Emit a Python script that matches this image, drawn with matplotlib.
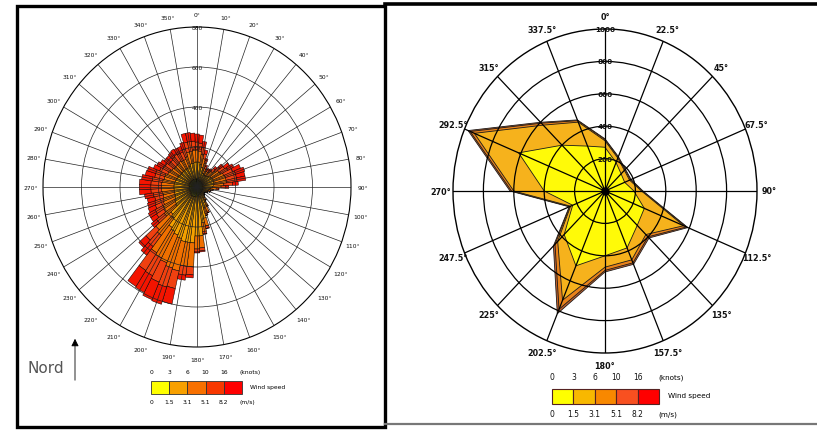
import numpy as np
import matplotlib.pyplot as plt
from matplotlib.patches import Rectangle, FancyArrowPatch

W, H = 817, 431

# ---------------------------------------
# Left rose: 72 sectors of 5 degrees, frequency per speed class
# ---------------------------------------
dirs_left = np.arange(0, 360, 5)

left_c1 = [40, 40, 40, 35, 35, 30, 30, 30, 30, 30, 30, 30,
           30, 30, 30, 30, 30, 30, 30, 30, 30, 30, 30, 30,
           30, 28, 28, 30, 30, 32, 35, 35, 35, 40, 40, 45,
           45, 50, 50, 50, 50, 50, 50, 50, 45, 45, 40, 40,
           40, 40, 40, 40, 40, 40, 40, 40, 40, 40, 40, 40,
           40, 40, 40, 40, 40, 40, 40, 40, 40, 40, 40, 40]
left_c2 = [85, 85, 75, 65, 55, 45, 40, 40, 40, 45, 50, 55,
           55, 60, 60, 60, 60, 55, 50, 40, 35, 30, 28, 22,
           20, 18, 18, 20, 22, 33, 50, 70, 75, 120, 140, 200,
           200, 230, 230, 230, 220, 210, 200, 190, 150, 140, 100, 95,
           90, 85, 80, 80, 80, 80, 80, 80, 80, 75, 75, 70,
           70, 65, 65, 65, 65, 65, 65, 65, 70, 80, 80, 85]
left_c3 = [60, 55, 50, 45, 35, 25, 20, 22, 25, 32, 40, 50,
           55, 60, 65, 65, 65, 55, 45, 30, 15, 12, 10, 8,
           5, 4, 4, 5, 8, 12, 20, 28, 30, 40, 45, 60,
           65, 120, 120, 150, 155, 150, 150, 150, 110, 105, 75, 70,
           70, 65, 65, 60, 60, 65, 65, 65, 60, 60, 60, 55,
           50, 50, 45, 45, 45, 50, 45, 45, 50, 60, 60, 60]
left_c4 = [40, 40, 35, 25, 15, 12, 10, 12, 12, 20, 28, 35,
           40, 50, 55, 55, 55, 45, 25, 10, 5, 3, 2, 0,
           0, 0, 0, 0, 0, 3, 5, 7, 10, 12, 12, 15,
           15, 40, 45, 90, 100, 105, 100, 105, 70, 70, 50, 45,
           45, 45, 45, 45, 50, 55, 55, 55, 55, 50, 50, 45,
           40, 40, 35, 35, 40, 40, 40, 40, 40, 50, 50, 45]
left_c5 = [40, 40, 30, 20, 10, 8, 5, 6, 8, 13, 22, 30,
           35, 45, 50, 45, 45, 30, 15, 5, 0, 0, 0, 0,
           0, 0, 0, 0, 0, 0, 0, 0, 0, 3, 3, 5,
           5, 15, 25, 80, 90, 95, 95, 95, 55, 50, 35, 35,
           40, 40, 40, 40, 45, 60, 60, 60, 55, 50, 45, 35,
           35, 30, 30, 30, 30, 30, 30, 30, 35, 45, 45, 40]
left_classes = [left_c1, left_c2, left_c3, left_c4, left_c5]
left_colors = ['#ffff00', '#f3a000', '#f07000', '#f04010', '#f41400']
left_rings = [200, 400, 600, 800]

# ---------------------------------------
# Right rose: 16 directions, stacked polygons
# ---------------------------------------
dirs_right = np.arange(0, 360, 22.5)
dir_labels_right = ['0°', '22.5°', '45°', '67.5°', '90°', '112.5°', '135°', '157.5°',
                    '180°', '202.5°', '225°', '247.5°', '270°', '292.5°', '315°', '337.5°']
right_c1 = [270, 190, 150, 140, 190, 280, 300, 380, 400, 500, 380, 230, 400, 615, 400, 300]
right_c2 = [40, 30, 30, 35, 50, 280, 80, 80, 70, 230, 60, 15, 200, 315, 175, 160]
right_c3 = [8, 6, 6, 7, 6, 20, 20, 20, 20, 60, 25, 6, 15, 30, 17, 10]
right_c4 = [4, 4, 4, 4, 4, 10, 10, 10, 10, 30, 15, 4, 10, 15, 8, 5]
right_classes = [right_c1, right_c2, right_c3, right_c4]
right_colors = ['#fffa08', '#f6b21c', '#e8821a', '#c2602c']
right_rings = [200, 400, 600, 800, 1000]

# legend
knots_labels = ['0', '3', '6', '10', '16']
ms_labels = ['0', '1.5', '3.1', '5.1', '8.2']
legend_left_colors = ['#ffff00', '#f8a000', '#f87000', '#f83800', '#ff0000']
legend_right_colors = ['#ffff00', '#f8b800', '#f88800', '#f85020', '#ff0000']


def fx(x):
    return x / W


def fy(y):
    return 1 - y / H


fig = plt.figure(figsize=(W / 100, H / 100), dpi=100)

# frames
fig.add_artist(Rectangle((fx(17), fy(428)), (385 - 17) / W, (428 - 7) / H,
                         transform=fig.transFigure, fill=False, lw=2.4, ec='black'))
fig.add_artist(plt.Line2D([fx(385), 1], [fy(5), fy(5)], transform=fig.transFigure,
                          color='black', lw=2.6))
fig.add_artist(plt.Line2D([fx(385), 1], [fy(425), fy(425)], transform=fig.transFigure,
                          color='#777777', lw=1.6))

# ---------------- left chart ----------------
ax1 = fig.add_axes([fx(43), fy(348), 308 / W, 320 / H], projection='polar')
ax1.set_theta_zero_location('N')
ax1.set_theta_direction(-1)
ax1.set_aspect('auto')
theta = np.deg2rad(dirs_left)
bottom = np.zeros(len(dirs_left))
for vals, col in zip(left_classes, left_colors):
    vals = np.array(vals)
    ax1.bar(theta, vals, width=np.deg2rad(5), bottom=bottom, color=col,
            edgecolor='black', linewidth=0.35, zorder=1)
    bottom += vals
ax1.set_ylim(0, 800)
ax1.set_thetagrids(np.arange(0, 360, 10), labels=[])
ax1.set_rgrids(left_rings[:-1], labels=[])
ax1.grid(color='#222222', lw=0.5)
ax1.set_axisbelow(False)
ax1.spines['polar'].set_color('black')
ax1.spines['polar'].set_linewidth(0.8)
for d in range(0, 360, 10):
    ax1.text(np.deg2rad(d), 862, f'{d}°', fontsize=4.3, ha='center', va='center',
             color='#111111')
for r in left_rings:
    ax1.text(0, r, str(r), fontsize=4.3, ha='center', va='center', color='#111111', zorder=5)

# left legend
x0, bw = 151, 18.2
for i, col in enumerate(legend_left_colors):
    fig.add_artist(Rectangle((fx(x0 + i * bw), fy(395)), bw / W, 13 / H,
                             transform=fig.transFigure, fc=col, ec='#333333', lw=0.6))
    fig.text(fx(x0 + i * bw), fy(373), knots_labels[i], fontsize=4.3, ha='center', va='center')
    fig.text(fx(x0 + i * bw), fy(403), ms_labels[i], fontsize=4.3, ha='center', va='center')
fig.text(fx(240), fy(373), '(knots)', fontsize=4.3, ha='left', va='center')
fig.text(fx(240), fy(403), '(m/s)', fontsize=4.3, ha='left', va='center')
fig.text(fx(250), fy(388), 'Wind speed', fontsize=4.3, ha='left', va='center')

# Nord arrow
fig.text(fx(46), fy(369), 'Nord', fontsize=11, color='#555555', ha='center', va='center')
fig.add_artist(FancyArrowPatch((fx(75), fy(384)), (fx(75), fy(337)), transform=fig.transFigure,
                               arrowstyle='-|>', mutation_scale=11, color='black', lw=0.6))

# ---------------- right chart ----------------
ax2 = fig.add_axes([fx(453), fy(354), 304 / W, 324 / H], projection='polar')
ax2.set_theta_zero_location('N')
ax2.set_theta_direction(-1)
ax2.set_aspect('auto')
th = np.deg2rad(np.append(dirs_right, dirs_right[0]))
cum = np.cumsum(np.array(right_classes), axis=0)
for k in reversed(range(len(right_classes))):
    rr = np.append(cum[k], cum[k][0])
    ax2.fill(th, rr, color=right_colors[k], ec='#1a1a1a', lw=0.6, zorder=1)
ax2.set_ylim(0, 1000)
ax2.set_thetagrids(dirs_right, labels=[])
ax2.set_rgrids(right_rings[:-1], labels=[])
ax2.grid(color='black', lw=0.9)
ax2.set_axisbelow(False)
ax2.spines['polar'].set_color('black')
ax2.spines['polar'].set_linewidth(1.0)
ax2.plot([0], [0], 'o', color='black', ms=5, zorder=6)
for d, lab in zip(dirs_right, dir_labels_right):
    ax2.text(np.deg2rad(d), 1080, lab, fontsize=5.8, ha='center', va='center',
             color='#111111', fontweight='bold')
for r in right_rings:
    ax2.text(0, r, str(r), fontsize=5.2, ha='center', va='center', color='#111111',
             fontweight='bold', zorder=7)

# right legend
x0, bw = 552, 21.4
for i, col in enumerate(legend_right_colors):
    fig.add_artist(Rectangle((fx(x0 + i * bw), fy(405)), bw / W, 15 / H,
                             transform=fig.transFigure, fc=col, ec='#552222', lw=0.8))
    fig.text(fx(x0 + i * bw), fy(378), knots_labels[i], fontsize=5.5, ha='center', va='center',
             color='#111111')
    fig.text(fx(x0 + i * bw), fy(415), ms_labels[i], fontsize=5.5, ha='center', va='center',
             color='#111111')
fig.text(fx(658), fy(378), '(knots)', fontsize=5.2, ha='left', va='center')
fig.text(fx(658), fy(415), '(m/s)', fontsize=5.2, ha='left', va='center')
fig.text(fx(668), fy(396), 'Wind speed', fontsize=5.2, ha='left', va='center')

fig.savefig('out.png', dpi=100)
